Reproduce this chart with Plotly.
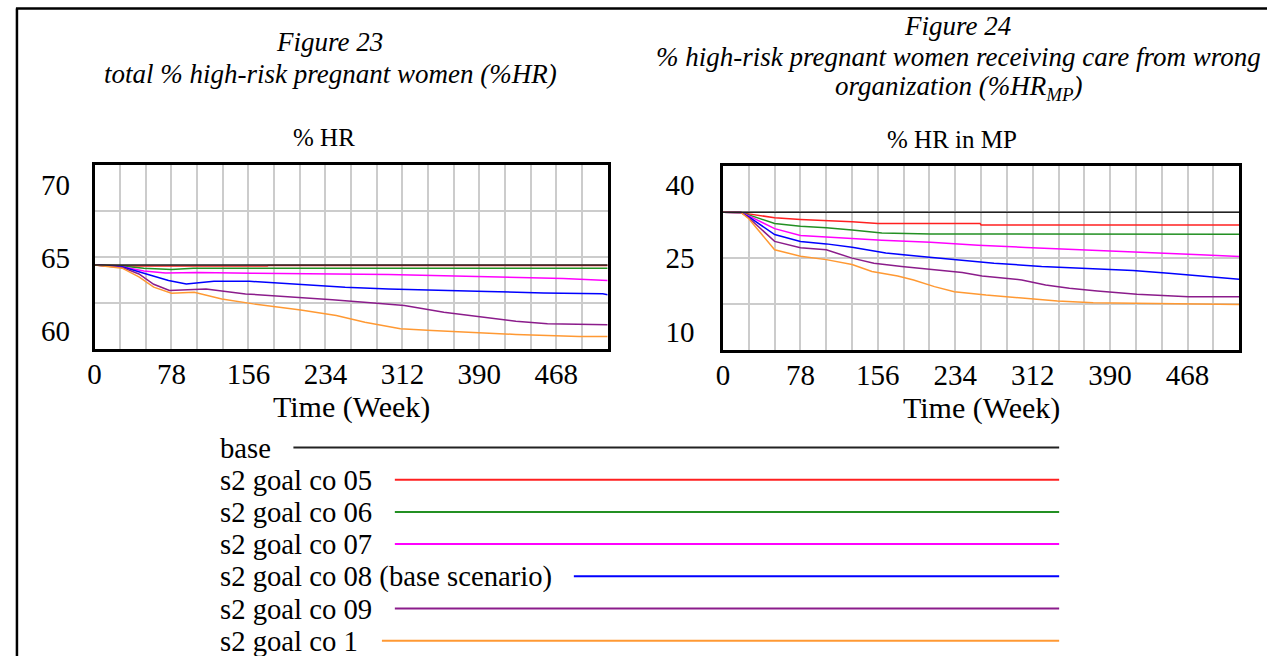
import plotly.graph_objects as go

W, H = 1267, 656

# ---------------- data ----------------
series_names = ["base", "s2 goal co 05", "s2 goal co 06", "s2 goal co 07",
                "s2 goal co 08 (base scenario)", "s2 goal co 09", "s2 goal co 1"]
series_colors = ["#222222", "#ff2020", "#239023", "#ff00ff", "#0000ff", "#8b1c8b", "#ff9933"]

# Figure 23: % HR
hr_base_w = [0, 520]
hr_base_v = [64.51, 64.51]
hr_05_w = [0, 28, 36, 175, 176, 520]
hr_05_v = [64.51, 64.48, 64.44, 64.44, 64.48, 64.48]
hr_06_w = [0, 28, 50, 78, 100, 520]
hr_06_v = [64.51, 64.45, 64.3, 64.2, 64.29, 64.29]
hr_07_w = [0, 28, 50, 72, 105, 160, 298, 406, 475, 520]
hr_07_v = [64.51, 64.4, 64.1, 63.97, 64.01, 63.95, 63.86, 63.72, 63.6, 63.45]
hr_08_w = [0, 28, 50, 75, 93, 121, 157, 185, 209, 254, 298, 346, 398, 455, 515, 520]
hr_08_v = [64.51, 64.4, 63.95, 63.45, 63.22, 63.4, 63.4, 63.29, 63.15, 62.99, 62.88,
           62.77, 62.70, 62.61, 62.55, 62.49]
hr_09_w = [0, 28, 45, 60, 76, 90, 113, 153, 193, 241, 286, 314, 354, 394, 427, 459, 520]
hr_09_v = [64.51, 64.35, 63.9, 63.2, 62.77, 62.8, 62.88, 62.54, 62.38, 62.15, 61.9,
           61.75, 61.29, 60.95, 60.68, 60.5, 60.43]
hr_1_w = [0, 28, 45, 60, 78, 101, 129, 161, 209, 245, 274, 310, 342, 382, 427, 491, 520]
hr_1_v = [64.51, 64.3, 63.7, 63.0, 62.58, 62.65, 62.2, 61.86, 61.45, 61.07, 60.61,
          60.16, 60.05, 59.91, 59.77, 59.64, 59.64]

# Figure 24: % HR in MP
mp_base_w = [0, 520]
mp_base_v = [34.34, 34.34]
mp_05_w = [0, 18, 26, 52, 78, 104, 130, 156, 259, 260, 520]
mp_05_v = [34.34, 34.3, 34.0, 33.2, 32.86, 32.65, 32.4, 32.02, 32.02, 31.75, 31.75]
mp_06_w = [0, 18, 26, 52, 78, 104, 130, 160, 209, 520]
mp_06_v = [34.34, 34.3, 33.8, 32.04, 31.5, 31.2, 30.7, 30.12, 29.91, 29.84]
mp_07_w = [0, 18, 26, 52, 78, 104, 130, 160, 209, 257, 305, 365, 425, 481, 520]
mp_07_v = [34.34, 34.3, 33.6, 31.0, 29.6, 29.3, 28.9, 28.62, 28.21, 27.6, 27.18,
           26.71, 26.16, 25.68, 25.34]
mp_08_w = [0, 18, 26, 52, 78, 104, 130, 164, 200, 233, 273, 321, 365, 413, 449, 481, 520]
mp_08_v = [34.34, 34.3, 33.4, 29.8, 28.4, 27.9, 27.2, 26.03, 25.34, 24.66, 23.98,
           23.3, 22.96, 22.48, 21.94, 21.39, 20.71]
mp_09_w = [0, 18, 26, 52, 78, 104, 130, 152, 180, 209, 241, 261, 301, 325, 349, 377,
           417, 469, 520]
mp_09_v = [34.34, 34.3, 33.2, 28.4, 27.1, 26.7, 25.0, 23.98, 23.3, 22.75, 22.07,
           21.39, 20.57, 19.55, 18.87, 18.32, 17.64, 17.16, 17.16]
mp_1_w = [0, 18, 26, 52, 78, 104, 130, 150, 176, 192, 213, 233, 265, 301, 337, 373,
          425, 520]
mp_1_v = [34.34, 34.3, 33.0, 26.7, 25.4, 24.7, 23.7, 22.3, 21.39, 20.57, 19.21,
          18.19, 17.5, 16.82, 16.28, 15.94, 15.8, 15.6]

x_ticks = [0, 78, 156, 234, 312, 390, 468]
x_grid = [26, 52, 78, 104, 130, 156, 182, 208, 234, 260, 286, 312, 338, 364, 390,
          416, 442, 468, 494]
hr_ticks = [60, 65, 70]
hr_grid = [61.92, 65.06, 68.2]
mp_ticks = [10, 25, 40]
mp_grid = [15.68, 25.03, 34.38]

hr_series = [(hr_base_w, hr_base_v), (hr_05_w, hr_05_v), (hr_06_w, hr_06_v),
             (hr_07_w, hr_07_v), (hr_08_w, hr_08_v), (hr_09_w, hr_09_v), (hr_1_w, hr_1_v)]
mp_series = [(mp_base_w, mp_base_v), (mp_05_w, mp_05_v), (mp_06_w, mp_06_v),
             (mp_07_w, mp_07_v), (mp_08_w, mp_08_v), (mp_09_w, mp_09_v), (mp_1_w, mp_1_v)]

# ---------------- figure ----------------
SERIF = "Liberation Serif, Times New Roman, serif"
fig = go.Figure()

for i in list(range(1, 7)) + [0]:
    w, v = hr_series[i]
    fig.add_trace(go.Scatter(x=w, y=v, mode="lines", name=series_names[i],
                             line=dict(color=series_colors[i], width=1.5),
                             xaxis="x", yaxis="y", showlegend=False))
    w, v = mp_series[i]
    fig.add_trace(go.Scatter(x=w, y=v, mode="lines", name=series_names[i],
                             line=dict(color=series_colors[i], width=1.5),
                             xaxis="x2", yaxis="y2", showlegend=False))

def px(x):
    return x / W

def py(y):
    return 1 - y / H

tickfont = dict(family=SERIF, size=29, color="#000000")
gridstyle = dict(tickmode="array", showgrid=True, gridcolor="#cccccc", gridwidth=1.5, ticks="")
xcommon = dict(range=[0, 520], tickmode="array", tickvals=x_ticks,
               showgrid=False, zeroline=False,
               showline=True, linecolor="black", linewidth=2.5, mirror=True,
               ticks="", ticklabelstandoff=-3,
               tickfont=tickfont)
ycommon = dict(tickmode="array", showgrid=False, zeroline=False,
               showline=True, linecolor="black", linewidth=2.5, mirror=True,
               ticks="outside", tickcolor="rgba(0,0,0,0)",
               tickfont=tickfont)

fig.update_layout(
    width=W, height=H,
    margin=dict(l=0, r=0, t=0, b=0),
    paper_bgcolor="white", plot_bgcolor="white",
    showlegend=False,
    xaxis=dict(domain=[px(88), px(604)], anchor="y",
               minor=dict(tickvals=x_grid, **gridstyle), **xcommon),
    yaxis=dict(domain=[py(349), py(165)], anchor="x", range=[58.78, 71.34],
               tickvals=hr_ticks, ticklen=16,
               minor=dict(tickvals=hr_grid, **gridstyle), **ycommon),
    xaxis2=dict(domain=[px(720), px(1239)], anchor="y2",
                minor=dict(tickvals=x_grid, **gridstyle), **xcommon),
    yaxis2=dict(domain=[py(350), py(166)], anchor="x2", range=[6.33, 43.73],
                tickvals=mp_ticks, ticklen=20,
                minor=dict(tickvals=mp_grid, **gridstyle), **ycommon),
)

ann = []
def text(x, y, s, size, italic=False, xanchor="center"):
    ann.append(dict(x=px(x), y=py(y), xref="paper", yref="paper", text=s,
                    showarrow=False, xanchor=xanchor, yanchor="middle",
                    font=dict(family=SERIF, size=size, color="#000000",
                              style="italic" if italic else "normal")))

text(324, 42, "Figure 23", 27, True)
text(325, 74, "total % high-risk pregnant women (%HR)", 27, True)
text(956, 26, "Figure 24", 27, True)
text(957, 57, "% high-risk pregnant women receiving care from wrong", 27, True)
text(957, 88, "organization (%HR<sub>MP</sub>)", 27, True)
text(319, 138, "% HR", 25)
text(950, 139, "% HR in MP", 25)
text(346, 407, "Time (Week)", 30)
text(980, 408, "Time (Week)", 30)

# legend (drawn manually to match the reference layout)
legend_y0, legend_dy = 447.5, 32.2
legend_line_start = [288, 390, 390, 390, 570, 390, 377]
legend_line_end = 1058
shapes = []
for i, name in enumerate(series_names):
    yy = legend_y0 + i * legend_dy
    text(212, yy, name, 28.7, False, xanchor="left")
    shapes.append(dict(type="line", xref="paper", yref="paper",
                       x0=px(legend_line_start[i]), x1=px(legend_line_end),
                       y0=py(yy), y1=py(yy),
                       line=dict(color=series_colors[i], width=2)))

# outer frame (left and top edges)
shapes.append(dict(type="line", xref="paper", yref="paper", x0=px(10), x1=px(10),
                   y0=py(8.5), y1=py(670), line=dict(color="black", width=2.5)))
shapes.append(dict(type="line", xref="paper", yref="paper", x0=px(9), x1=px(1280),
                   y0=py(8.5), y1=py(8.5), line=dict(color="black", width=2.5)))

fig.update_layout(annotations=ann, shapes=shapes)
fig.write_html("out.html",
               config={"displayModeBar": False},
               post_script="document.body.style.margin='0';"
                           "document.body.style.overflow='hidden';")
